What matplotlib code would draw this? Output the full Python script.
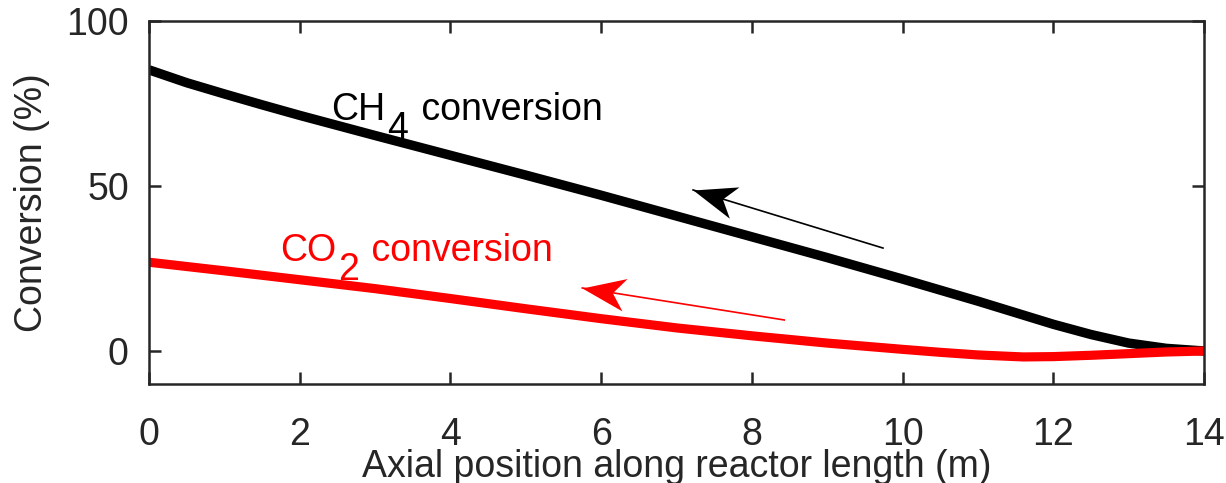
import numpy as np
import matplotlib
matplotlib.use("Agg")
import matplotlib.pyplot as plt
from matplotlib.path import Path
from matplotlib.markers import MarkerStyle
from matplotlib.transforms import Affine2D

plt.rcParams['font.family'] = ['Liberation Sans', 'DejaVu Sans']

# data
x_ch4 = [0, 0.5, 1, 1.5, 2, 3, 4, 5, 6, 7, 8, 9, 10, 11, 11.5, 12, 12.5, 13,
         13.5, 14]
ch4_conv = [85.2, 81.3, 77.9, 74.6, 71.4, 65.3, 59.3, 53.3, 47.2, 40.9, 34.6,
            28.3, 21.8, 15.1, 11.6, 8.1, 5.0, 2.4, 0.8, 0.0]
x_co2 = [0, 1, 2, 3, 4, 5, 6, 7, 8, 9, 10, 10.5, 11, 11.6, 12, 12.5, 13, 13.5,
         14]
co2_conv = [26.9, 24.3, 21.6, 18.9, 15.9, 12.8, 9.8, 7.0, 4.6, 2.4, 0.5, -0.4,
            -1.2, -1.8, -1.7, -1.3, -0.8, -0.3, 0.0]
xticks = [0, 2, 4, 6, 8, 10, 12, 14]
yticks = [0, 50, 100]

axcol = '#262626'

fig = plt.figure(figsize=(12.26, 4.83), dpi=100)
ax = fig.add_axes([149/1226, 1 - 384/483, (1204 - 149)/1226, (384 - 21)/483])

ax.plot(x_ch4, ch4_conv, color='k', lw=6.8, solid_capstyle='butt')
ax.plot(x_co2, co2_conv, color='#ff0000', lw=6.6, solid_capstyle='butt')

ax.set_xlim(0, 14)
ax.set_ylim(-10, 100)
ax.set_xticks(xticks)
ax.set_yticks(yticks)
for s in ax.spines.values():
    s.set_linewidth(1.8)
    s.set_color(axcol)
ax.tick_params(direction='in', length=8.6, width=1.8, top=True, right=True,
               labelsize=27, colors=axcol)
ax.tick_params(axis='x', pad=23.5)
ax.tick_params(axis='y', pad=14.5)

ax.set_xlabel('Axial position along reactor length (m)', fontsize=27, color=axcol)
ax.xaxis.set_label_coords(0.5, -0.18)
ax.set_ylabel('Conversion (%)', fontsize=27, color=axcol)
ax.yaxis.set_label_coords(-0.094, 0.5)


def label(x, y, a, sub, b, color):
    t1 = ax.text(x, y, a, fontsize=27, color=color, va='baseline', ha='left')
    t2 = ax.annotate(sub, xy=(1, 0), xycoords=t1, xytext=(1, -13.7),
                     textcoords='offset points', fontsize=27, color=color,
                     va='bottom', ha='left')
    ax.annotate(b, xy=(1, 0), xycoords=(t2, t1), xytext=(2, 0),
                textcoords='offset points', fontsize=27, color=color,
                va='bottom', ha='left')


label(2.42, 70.1, 'CH', '4', ' conversion', 'k')
label(1.74, 27.3, 'CO', '2', ' conversion', '#ff0000')

# arrows with notched heads
head = Path([(0, 0), (-42, 16), (-30, 0), (-42, -16), (0, 0)],
            [Path.MOVETO, Path.LINETO, Path.LINETO, Path.LINETO, Path.CLOSEPOLY])


def arrow(tail, tip, color):
    ax.plot([tail[0], tip[0]], [tail[1], tip[1]], color=color, lw=1.2)
    p0 = ax.transData.transform(tail)
    p1 = ax.transData.transform(tip)
    ang = np.arctan2(p1[1] - p0[1], p1[0] - p0[0])
    m = MarkerStyle(head, transform=Affine2D().rotate(ang))
    ax.plot([tip[0]], [tip[1]], marker=m, markersize=62, color=color,
            markeredgewidth=0, linestyle='none', zorder=3)


arrow((9.74, 31.2), (7.22, 48.8), 'k')
arrow((8.43, 9.4), (5.75, 19.1), '#ff0000')

fig.savefig('out.png', dpi=100)
